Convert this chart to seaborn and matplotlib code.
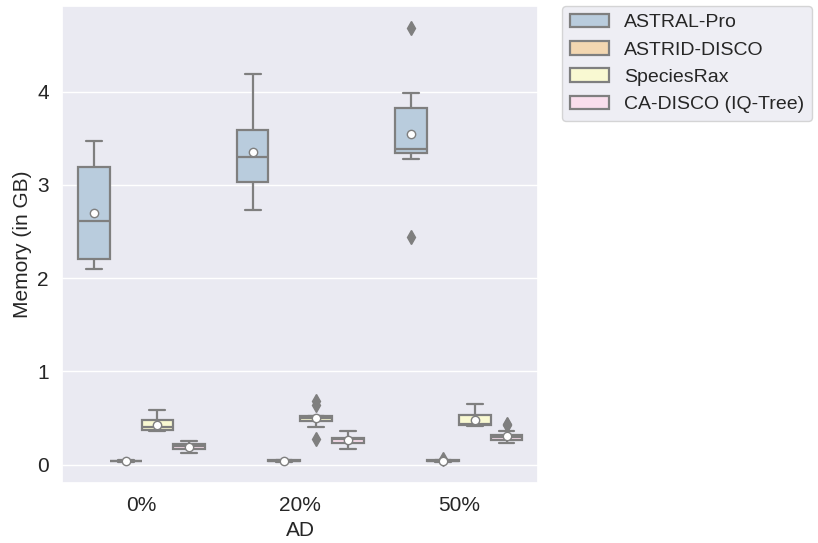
import pandas as pd
import seaborn as sns
import matplotlib.pyplot as plt

# memory (GB) per replicate
conditions = ['0%', '20%', '50%']
methods = ['ASTRAL-Pro', 'ASTRID-DISCO', 'SpeciesRax', 'CA-DISCO (IQ-Tree)']

astral_pro = {
    '0%': [2.10, 2.15, 2.21, 2.21, 2.61, 2.61, 3.19, 3.19, 3.26, 3.47],
    '20%': [2.73, 2.95, 3.03, 3.03, 3.30, 3.30, 3.59, 3.59, 3.79, 4.19],
    '50%': [2.44, 3.28, 3.34, 3.34, 3.39, 3.39, 3.83, 3.83, 3.99, 4.68],
}
astrid_disco = {
    '0%': [0.03, 0.03, 0.035, 0.035, 0.04, 0.04, 0.04, 0.045, 0.045, 0.05],
    '20%': [0.03, 0.035, 0.035, 0.04, 0.04, 0.04, 0.045, 0.045, 0.05, 0.05],
    '50%': [0.03, 0.03, 0.035, 0.035, 0.04, 0.04, 0.045, 0.045, 0.05, 0.06],
}
species_rax = {
    '0%': [0.36, 0.37, 0.37, 0.37, 0.40, 0.40, 0.48, 0.48, 0.48, 0.59],
    '20%': [0.28, 0.40, 0.465, 0.465, 0.50, 0.50, 0.525, 0.525, 0.64, 0.68],
    '50%': [0.41, 0.42, 0.43, 0.43, 0.44, 0.44, 0.535, 0.535, 0.54, 0.65],
}
ca_disco = {
    '0%': [0.13, 0.14, 0.165, 0.165, 0.20, 0.20, 0.225, 0.225, 0.225, 0.25],
    '20%': [0.165, 0.20, 0.23, 0.23, 0.27, 0.27, 0.29, 0.29, 0.295, 0.36],
    '50%': [0.23, 0.24, 0.26, 0.26, 0.28, 0.30, 0.30, 0.30, 0.3067, 0.36, 0.42, 0.44],
}

rows = []
for method, data in zip(methods, [astral_pro, astrid_disco, species_rax, ca_disco]):
    for cond in conditions:
        for v in data[cond]:
            rows.append({'AD': cond, 'Method': method, 'Memory': v})
df = pd.DataFrame(rows)

sns.set_theme(style='darkgrid')
plt.rcParams['font.family'] = ['Liberation Sans', 'DejaVu Sans']

palette = ['#b3cde3', '#fed9a6', '#ffffcc', '#fddaec']
gray = '#7f7f7f'

fig, ax = plt.subplots(figsize=(8.18, 5.43), dpi=100)
sns.boxplot(data=df, x='AD', y='Memory', hue='Method', order=conditions,
            hue_order=methods, palette=palette, saturation=0.75, ax=ax,
            linecolor=gray, linewidth=1.6, showmeans=True,
            meanprops={'marker': 'o', 'markerfacecolor': 'white',
                       'markeredgecolor': gray, 'markersize': 6},
            flierprops={'marker': 'd', 'markerfacecolor': gray,
                        'markeredgecolor': gray, 'markersize': 7})

ax.set_ylim(-0.2, 4.92)
ax.set_xlabel('AD', fontsize=15)
ax.set_ylabel('Memory (in GB)', fontsize=15)
ax.tick_params(labelsize=15)
ax.legend(bbox_to_anchor=(1.05, 1), loc='upper left', borderaxespad=0,
          fontsize=14)

fig.subplots_adjust(left=0.076, right=0.658, top=0.989, bottom=0.110)
plt.savefig('out.png', dpi=100)
plt.close()
